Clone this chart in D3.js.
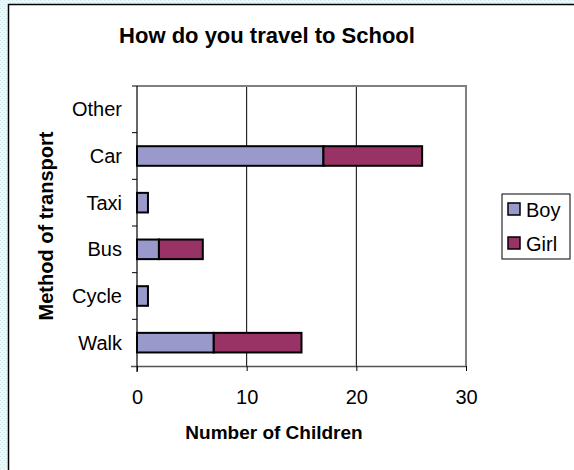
<!DOCTYPE html>
<html><head><meta charset="utf-8">
<script src="https://cdn.jsdelivr.net/npm/d3@7"></script>
<style>html,body{margin:0;padding:0;background:#fff;}svg{display:block;font-family:"Liberation Sans",Arial,sans-serif;}</style>
</head><body>
<script>
const categories = ["Walk","Cycle","Bus","Taxi","Car","Other"];
const boy  = [7, 1, 2, 1, 17, 0];
const girl = [8, 0, 4, 0, 9, 0];
const seriesNames = ["Boy","Girl"];
const seriesColors = ["#9999CC","#993366"];
const xTicks = [0,10,20,30];

const W = 574, H = 470;
const FONT = "Liberation Sans, Arial, sans-serif";
const svg = d3.select("body").append("svg").attr("width", W).attr("height", H);
const defs = svg.append("defs");
const pat = defs.append("pattern").attr("id","dots").attr("width",4).attr("height",4).attr("patternUnits","userSpaceOnUse");
pat.append("rect").attr("width",4).attr("height",4).attr("fill","#eef7f8");
pat.append("rect").attr("width",1).attr("height",1).attr("fill","#cde8ec");
pat.append("rect").attr("x",2).attr("y",2).attr("width",1).attr("height",1).attr("fill","#cde8ec");
svg.append("rect").attr("width",W).attr("height",H).attr("fill","url(#dots)");
svg.append("rect").attr("x",8.5).attr("y",4.5).attr("width",W+10).attr("height",H+10)
  .attr("fill","#fff").attr("stroke","#000").attr("stroke-width",1.5);

const L = 137, R = 466, T = 86, B = 366;
const x = d3.scaleLinear().domain([0,30]).range([L,R]);
const y = d3.scaleBand().domain(categories).range([B,T]).paddingInner(0.58).paddingOuter(0.29);
const yb = d3.scaleBand().domain(categories).range([B,T]);

// gridlines
svg.append("g").selectAll("line").data(xTicks.slice(1,-1)).join("line")
  .attr("x1",d=>x(d)).attr("x2",d=>x(d)).attr("y1",T).attr("y2",B)
  .attr("stroke","#000").attr("stroke-width",1);
// plot border (gray)
svg.append("path").attr("d",`M${L},${T}H${R}V${B}`).attr("fill","none").attr("stroke","#808080").attr("stroke-width",2);

// bars
const stacked = categories.map((c,i)=>({c, vals:[boy[i],girl[i]]}));
const gBars = svg.append("g");
stacked.forEach(s=>{
  let acc = 0;
  s.vals.forEach((v,j)=>{
    if(v>0){
      gBars.append("rect").attr("x",x(acc)).attr("y",y(s.c)).attr("width",x(acc+v)-x(acc)).attr("height",y.bandwidth())
        .attr("fill",seriesColors[j]).attr("stroke","#000").attr("stroke-width",2);
    }
    acc += v;
  });
});

// x axis
const xa = svg.append("g").attr("transform",`translate(0,${B})`)
  .call(d3.axisBottom(x).tickValues(xTicks).tickSize(5).tickPadding(19).tickSizeOuter(0));
xa.select(".domain").attr("stroke","#555").attr("stroke-width",1.5).attr("d",`M${L-6},0.5H${R}`);
xa.selectAll("text").attr("font-size",20).attr("fill","#000").attr("font-family",FONT);
xa.selectAll(".tick line").attr("stroke","#000");

// y axis
const ya = svg.append("g").attr("transform",`translate(${L},0)`);
ya.append("line").attr("x1",0).attr("x2",0).attr("y1",T).attr("y2",B+6).attr("stroke","#000").attr("stroke-width",1.2);
ya.selectAll("line.t").data(categories.slice(1)).join("line").attr("class","t")
  .attr("x1",-5).attr("x2",0).attr("y1",d=>yb(d)+yb.bandwidth()).attr("y2",d=>yb(d)+yb.bandwidth()).attr("stroke","#000");
ya.append("line").attr("x1",-5).attr("x2",0).attr("y1",T).attr("y2",T).attr("stroke","#000");
ya.selectAll("text").data(categories).join("text")
  .attr("x",-15).attr("y",d=>yb(d)+yb.bandwidth()/2).attr("dy","0.35em")
  .attr("text-anchor","end").attr("font-size",20).attr("font-family",FONT).text(d=>d);

// titles
svg.append("text").attr("x",267).attr("y",43).attr("text-anchor","middle").attr("font-size",22).attr("font-weight","bold").text("How do you travel to School");
svg.append("text").attr("x",274).attr("y",439).attr("text-anchor","middle").attr("font-size",19).attr("font-weight","bold").text("Number of Children");
svg.append("text").attr("transform",`translate(53,${(T+B)/2}) rotate(-90)`).attr("text-anchor","middle").attr("font-size",20).attr("font-weight","bold").text("Method of transport");

// legend
const lg = svg.append("g");
lg.append("rect").attr("x",502).attr("y",194).attr("width",68).attr("height",65).attr("fill","#fff").attr("stroke","#000").attr("stroke-width",1);
seriesNames.forEach((n,i)=>{
  const sy = 203 + i*34;
  lg.append("rect").attr("x",508).attr("y",sy).attr("width",12).attr("height",12).attr("fill",seriesColors[i]).attr("stroke","#000").attr("stroke-width",1.5);
  lg.append("text").attr("x",526).attr("y",sy+14).attr("font-size",20).text(n);
});
</script>
</body></html>
